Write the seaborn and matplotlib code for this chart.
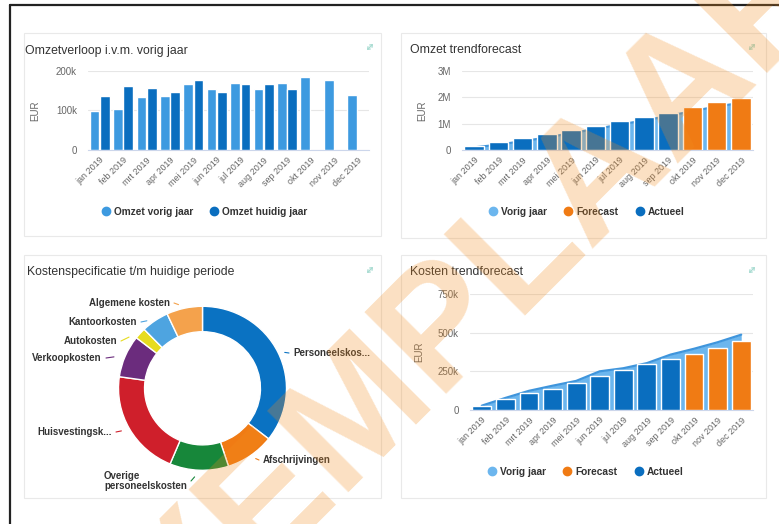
import numpy as np
import pandas as pd
import matplotlib
matplotlib.use("Agg")
import matplotlib.pyplot as plt
import seaborn as sns
from matplotlib.lines import Line2D
from matplotlib.patches import Rectangle

# ---------------- data ----------------
maanden = ['jan 2019', 'feb 2019', 'mrt 2019', 'apr 2019', 'mei 2019', 'jun 2019',
           'jul 2019', 'aug 2019', 'sep 2019', 'okt 2019', 'nov 2019', 'dec 2019']

omzet_vorig_jaar = [99000, 104000, 133000, 137000, 167000, 155000,
                    170000, 155000, 170000, 184000, 177000, 138000]
omzet_huidig_jaar = [136000, 161000, 156000, 146000, 178000, 148000,
                     168000, 168000, 155000]

omzet_trend_vorig = [99000, 203000, 336000, 473000, 640000, 795000,
                     965000, 1120000, 1290000, 1474000, 1651000, 1789000]
omzet_trend_actueel = [136000, 297000, 453000, 599000, 777000, 925000,
                       1093000, 1261000, 1416000]
omzet_trend_forecast = [1630000, 1810000, 1970000]

kosten_trend_vorig = [28000, 78000, 124000, 157000, 188000, 250000,
                      270000, 303000, 358000, 396000, 438000, 487000]
kosten_trend_actueel = [27000, 68000, 107000, 139000, 177000, 221000,
                        261000, 298000, 328000]
kosten_trend_forecast = [363000, 401000, 444000]

kosten_labels = ['Personeelskos...', 'Afschrijvingen', 'Overige\npersoneelskosten',
                 'Huisvestingsk...', 'Verkoopkosten', 'Autokosten',
                 'Kantoorkosten', 'Algemene kosten']
kosten_aandeel = [35.5, 9.4, 11.3, 20.9, 8.3, 2.2, 5.3, 6.9]

# ---------------- style ----------------
sns.set_style("white")
plt.rcParams['font.family'] = ['Liberation Sans', 'DejaVu Sans']

LIGHT = '#3d9ae0'
DARK = '#0a6ebf'
ORANGE = '#f07b14'
AREA = '#6cb6ee'
AREA_LINE = '#3f95dc'
PIE_COLORS = ['#0a72c2', '#f07b14', '#17873a', '#cf1f2b', '#6b2c7d',
              '#e6dc1e', '#4ea4e0', '#f4a24c']
TXT = '#333333'
TICK = '#666666'

W, H = 779, 524
fig = plt.figure(figsize=(W / 100, H / 100), dpi=100)
fig.patch.set_facecolor('white')


def fx(x):
    return x / W


def fy(y):
    return 1 - y / H


def px_axes(x0, y0, x1, y1):
    ax = fig.add_axes([fx(x0), fy(y1), (x1 - x0) / W, (y1 - y0) / H])
    ax.set_facecolor('none')
    return ax


# page frame
fig.add_artist(Line2D([fx(10), fx(10)], [fy(5), 0], color='#222222', lw=1.6,
                      transform=fig.transFigure))
fig.add_artist(Line2D([fx(10), 1], [fy(5), fy(5)], color='#222222', lw=1.6,
                      transform=fig.transFigure))

# cards
for (x0, y0, x1, y1) in [(24, 33, 381, 236), (401, 33, 766, 238),
                         (24, 255, 381, 498), (401, 255, 766, 498)]:
    fig.add_artist(Rectangle((fx(x0), fy(y1)), (x1 - x0) / W, (y1 - y0) / H,
                             transform=fig.transFigure, facecolor='white',
                             edgecolor='#e9e9e9', lw=0.8, zorder=-5))

# titles
for (x, y, t) in [(25, 54, 'Omzetverloop i.v.m. vorig jaar'),
                  (410, 53, 'Omzet trendforecast'),
                  (27, 275, 'Kostenspecificatie t/m huidige periode'),
                  (410, 275, 'Kosten trendforecast')]:
    fig.text(fx(x), fy(y), t, fontsize=8.8, color=TXT, ha='left', va='baseline')

# expand icons
for (x, y) in [(370, 47), (752, 47), (370, 270), (752, 270)]:
    fig.add_artist(matplotlib.patches.FancyArrowPatch(
        (fx(x - 5), fy(y + 5)), (fx(x + 5), fy(y - 5)), transform=fig.transFigure,
        arrowstyle='<->,head_length=1.5,head_width=1.2', color='#a9dcd2', lw=0.9))


def fmt_k(v):
    return '0' if v == 0 else f'{int(v / 1000)}k'


def fmt_m(v):
    return '0' if v == 0 else f'{int(v / 1e6)}M'


def style_axis(ax, yticks, fmt, ylabel_x):
    n = len(maanden)
    ax.set_xlim(-0.5, n - 0.5)
    ax.set_yticks(yticks)
    ax.set_yticklabels([fmt(v) for v in yticks])
    ax.set_ylim(0, yticks[-1])
    ax.yaxis.grid(True, color='#e6e6e6', lw=0.8)
    ax.xaxis.grid(False)
    ax.set_axisbelow(True)
    for s in ['left', 'top', 'right']:
        ax.spines[s].set_visible(False)
    ax.spines['bottom'].set_color('#ccd6eb')
    ax.spines['bottom'].set_linewidth(0.8)
    ax.set_xticks(range(n))
    ax.set_xticklabels(maanden, rotation=45, ha='right', rotation_mode='anchor')
    ax.set_xticks(np.arange(-0.5, n, 1.0), minor=True)
    ax.tick_params(axis='x', which='major', length=0, pad=4, labelsize=6.5,
                   labelcolor=TICK)
    ax.tick_params(axis='x', which='minor', length=4, width=0.8, color='#ccd6eb')
    ax.tick_params(axis='y', length=0, pad=8, labelsize=7, labelcolor=TICK)
    ax.set_xlabel('')
    ax.set_ylabel('EUR', fontsize=7, color=TICK)
    ax.yaxis.set_label_coords(ylabel_x, 0.5)


def legend(ax, items, cx, cy):
    handles = [Line2D([], [], marker='o', ls='', markersize=6, color=c,
                      label=l) for l, c in items]
    leg = fig.legend(handles=handles, loc='center', ncol=len(items),
                     bbox_to_anchor=(fx(cx), fy(cy)), frameon=False,
                     handletextpad=0.3, columnspacing=1.6, handlelength=1.0,
                     prop={'weight': 'bold', 'size': 7.3})
    for t in leg.get_texts():
        t.set_color(TXT)


# ---------------- chart 1 ----------------
ax1 = px_axes(88, 71, 369, 150)
df1 = pd.DataFrame({
    'maand': maanden + maanden[:len(omzet_huidig_jaar)],
    'omzet': omzet_vorig_jaar + omzet_huidig_jaar,
    'reeks': ['Omzet vorig jaar'] * len(omzet_vorig_jaar)
             + ['Omzet huidig jaar'] * len(omzet_huidig_jaar)})
sns.barplot(data=df1, x='maand', y='omzet', hue='reeks', order=maanden,
            hue_order=['Omzet vorig jaar', 'Omzet huidig jaar'],
            palette=[LIGHT, DARK], width=0.88, gap=0.06, saturation=1,
            legend=False, ax=ax1, zorder=3)
style_axis(ax1, [0, 100000, 200000], fmt_k, -0.17)
legend(ax1, [('Omzet vorig jaar', LIGHT), ('Omzet huidig jaar', DARK)], 204, 212)


# ---------------- trend charts ----------------
def trend(ax, vorig, actueel, forecast):
    n = len(maanden)
    df = pd.DataFrame({
        'maand': maanden[:len(actueel) + len(forecast)],
        'waarde': actueel + forecast,
        'type': ['Actueel'] * len(actueel) + ['Forecast'] * len(forecast)})
    sns.barplot(data=df, x='maand', y='waarde', hue='type', order=maanden,
                palette={'Actueel': DARK, 'Forecast': ORANGE}, dodge=False,
                width=0.8, saturation=1, legend=False, ax=ax, zorder=3)
    xs = np.arange(n)
    ax.fill_between(xs, 0, vorig, color=AREA, lw=0, zorder=1)
    sns.lineplot(x=xs, y=vorig, ax=ax, color=AREA_LINE, lw=1.6, zorder=2)


ax2 = px_axes(462, 71, 753, 150)
trend(ax2, omzet_trend_vorig, omzet_trend_actueel, omzet_trend_forecast)
style_axis(ax2, [0, 1000000, 2000000, 3000000], fmt_m, -0.12)
legend(ax2, [('Vorig jaar', AREA), ('Forecast', ORANGE), ('Actueel', DARK)], 586, 212)

ax4 = px_axes(470, 294, 753, 410)
trend(ax4, kosten_trend_vorig, kosten_trend_actueel, kosten_trend_forecast)
style_axis(ax4, [0, 250000, 500000, 750000], fmt_k, -0.16)
legend(ax4, [('Vorig jaar', AREA), ('Forecast', ORANGE), ('Actueel', DARK)], 585, 472)

# ---------------- donut ----------------
CX, CY, RX, RY = 202.5, 388.3, 84.0, 82.0
ax3 = px_axes(CX - RX, CY - RY, CX + RX, CY + RY)
wedges, _ = ax3.pie(kosten_aandeel, colors=PIE_COLORS, startangle=90,
                    counterclock=False, radius=1.0,
                    wedgeprops=dict(width=0.31, edgecolor='white', linewidth=1))
ax3.set_xlim(-1, 1)
ax3.set_ylim(-1, 1)
ax3.set_aspect('auto')
ax3.axis('off')

# label anchors (pixels) and alignment
label_layout = [(293, 353, 'left'), (263, 460, 'left'), (187, 481, 'right'),
                (112, 432, 'right'), (102, 358, 'right'), (117, 341, 'right'),
                (137, 322, 'right'), (170, 303, 'right')]
for w, lab, col, (lx, ly, ha) in zip(wedges, kosten_labels, PIE_COLORS, label_layout):
    mid = np.deg2rad((w.theta1 + w.theta2) / 2)
    dx_, dy_ = (lx - CX) / RX, (CY - ly) / RY
    ex, ey = np.cos(mid) * 1.02, np.sin(mid) * 1.02
    end_x = dx_ + (-4 / RX if ha == 'left' else 4 / RX)
    # short connector close to the label
    sx = end_x + (ex - end_x) * 0.45
    sy = dy_ + (ey - dy_) * 0.45
    ax3.plot([sx, end_x], [sy, dy_], color=col, lw=0.8, clip_on=False)
    ax3.text(dx_, dy_, lab, ha=ha, va='center', fontsize=7, fontweight='bold',
             color=TXT, clip_on=False, multialignment='left', linespacing=1.0)

# ---------------- watermark ----------------
fig.text(fx(442), fy(326), 'EXEMPLAAR', rotation=45, fontsize=120,
         fontweight='bold', color='#f28c1e', alpha=0.27, ha='center',
         va='center', zorder=100, rotation_mode='anchor')

fig.savefig('out.png', dpi=100, facecolor='white')
